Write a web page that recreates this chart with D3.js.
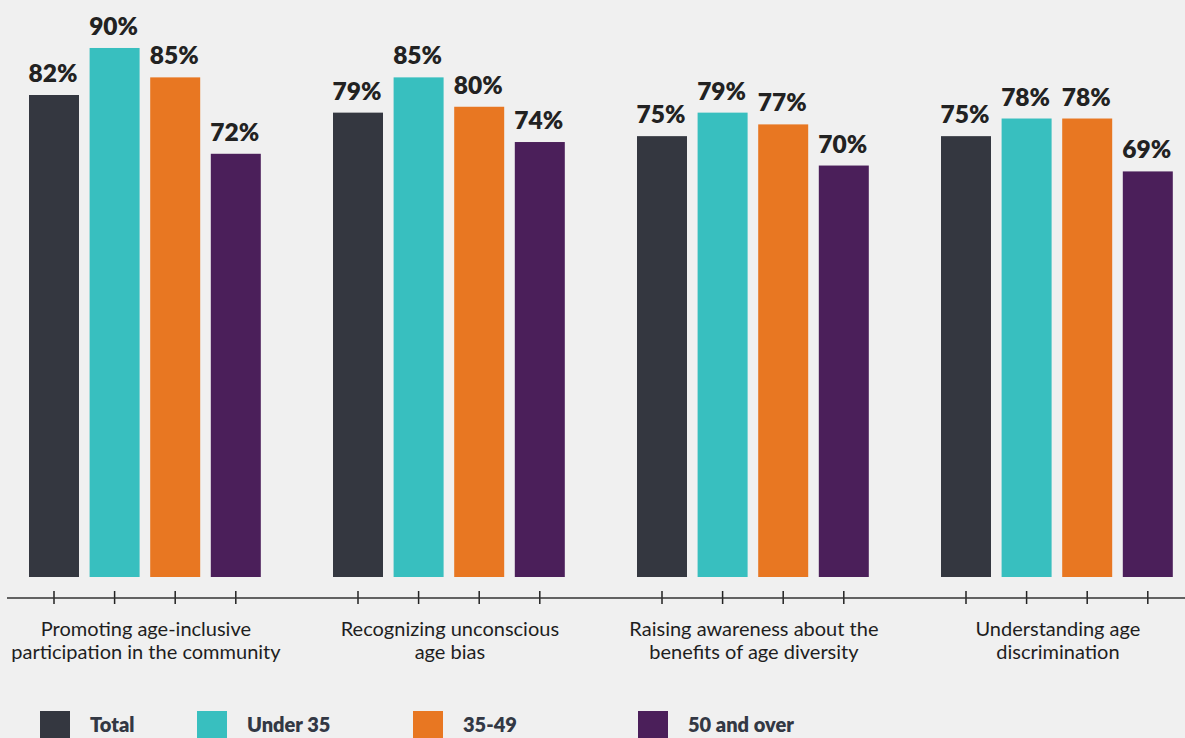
<!DOCTYPE html>
<html>
<head>
<meta charset="utf-8">
<script src="https://cdn.jsdelivr.net/npm/d3@7"></script>
<style>
  html, body { margin: 0; padding: 0; background: #f0f0f0; }
  svg { display: block; }
  text { font-family: Lato, "Noto Sans", sans-serif; }
</style>
</head>
<body>
<svg id="chart" width="1185" height="738"></svg>
<script>
// Share of respondents per topic, by age group
const categories = [
  ["Promoting age-inclusive", "participation in the community"],
  ["Recognizing unconscious", "age bias"],
  ["Raising awareness about the", "benefits of age diversity"],
  ["Understanding age", "discrimination"]
];
const seriesNames = ["Total", "Under 35", "35-49", "50 and over"];
const totalValues    = [82, 79, 75, 75];
const under35Values  = [90, 85, 79, 78];
const age3549Values  = [85, 80, 77, 78];
const over50Values   = [72, 74, 70, 69];
const seriesValues = [totalValues, under35Values, age3549Values, over50Values];
const colors = ["#343740", "#38bfbf", "#e87722", "#4b1f5a"];

const svg = d3.select("#chart");
const W = 1185;

const catIdx = d3.range(categories.length);
const x0 = d3.scaleBand().domain(catIdx).range([-7.1, 1208.9]).padding(0);
const x1 = d3.scaleBand().domain(seriesNames)
  .range([-121.2, 121.2]).paddingInner(0.175).paddingOuter(0.0875);
const y = d3.scaleLinear().domain([0, 100]).range([577, -10.8]);

const center = i => x0(i) + x0.bandwidth() / 2;

// Bars
const groups = svg.append("g").selectAll("g")
  .data(catIdx).join("g")
  .attr("transform", i => `translate(${center(i)},0)`);

groups.selectAll("rect")
  .data(i => seriesNames.map((s, k) => ({ s, k, v: seriesValues[k][i] })))
  .join("rect")
  .attr("x", d => x1(d.s))
  .attr("width", x1.bandwidth())
  .attr("y", d => y(d.v))
  .attr("height", d => y(0) - y(d.v))
  .attr("fill", d => colors[d.k]);

groups.selectAll("text.val")
  .data(i => seriesNames.map((s, k) => ({ s, k, v: seriesValues[k][i] })))
  .join("text")
  .attr("class", "val")
  .attr("x", d => x1(d.s) + x1.bandwidth() / 2 - 1)
  .attr("y", d => y(d.v) - 13)
  .attr("text-anchor", "middle")
  .attr("font-weight", 800)
  .attr("font-size", 24.5)
  .attr("fill", "#222222")
  .text(d => d.v + "%");

// Axis line with a tick under every bar
const axisY = 598;
svg.append("line")
  .attr("x1", 7).attr("x2", W)
  .attr("y1", axisY).attr("y2", axisY)
  .attr("stroke", "#333").attr("stroke-width", 1.5);

groups.selectAll("line.tick")
  .data(seriesNames).join("line")
  .attr("class", "tick")
  .attr("x1", s => x1(s) + x1.bandwidth() / 2)
  .attr("x2", s => x1(s) + x1.bandwidth() / 2)
  .attr("y1", axisY - 7).attr("y2", axisY + 6)
  .attr("stroke", "#222").attr("stroke-width", 1.5);

// Category labels
groups.append("text")
  .attr("text-anchor", "middle")
  .attr("font-size", 20)
  .attr("fill", "#1e1e1e")
  .selectAll("tspan")
  .data(i => categories[i]).join("tspan")
  .attr("x", 1)
  .attr("y", (d, j) => 636 + j * 23)
  .text(d => d);

// Legend
const legendX = [40, 197, 413, 638];
const legend = svg.append("g").selectAll("g")
  .data(seriesNames).join("g")
  .attr("transform", (d, k) => `translate(${legendX[k]},711)`);
legend.append("rect")
  .attr("width", 30).attr("height", 30)
  .attr("fill", (d, k) => colors[k]);
legend.append("text")
  .attr("x", 50).attr("y", 21)
  .attr("font-weight", 800)
  .attr("font-size", 20)
  .attr("fill", "#333844")
  .text(d => d);
</script>
</body>
</html>
